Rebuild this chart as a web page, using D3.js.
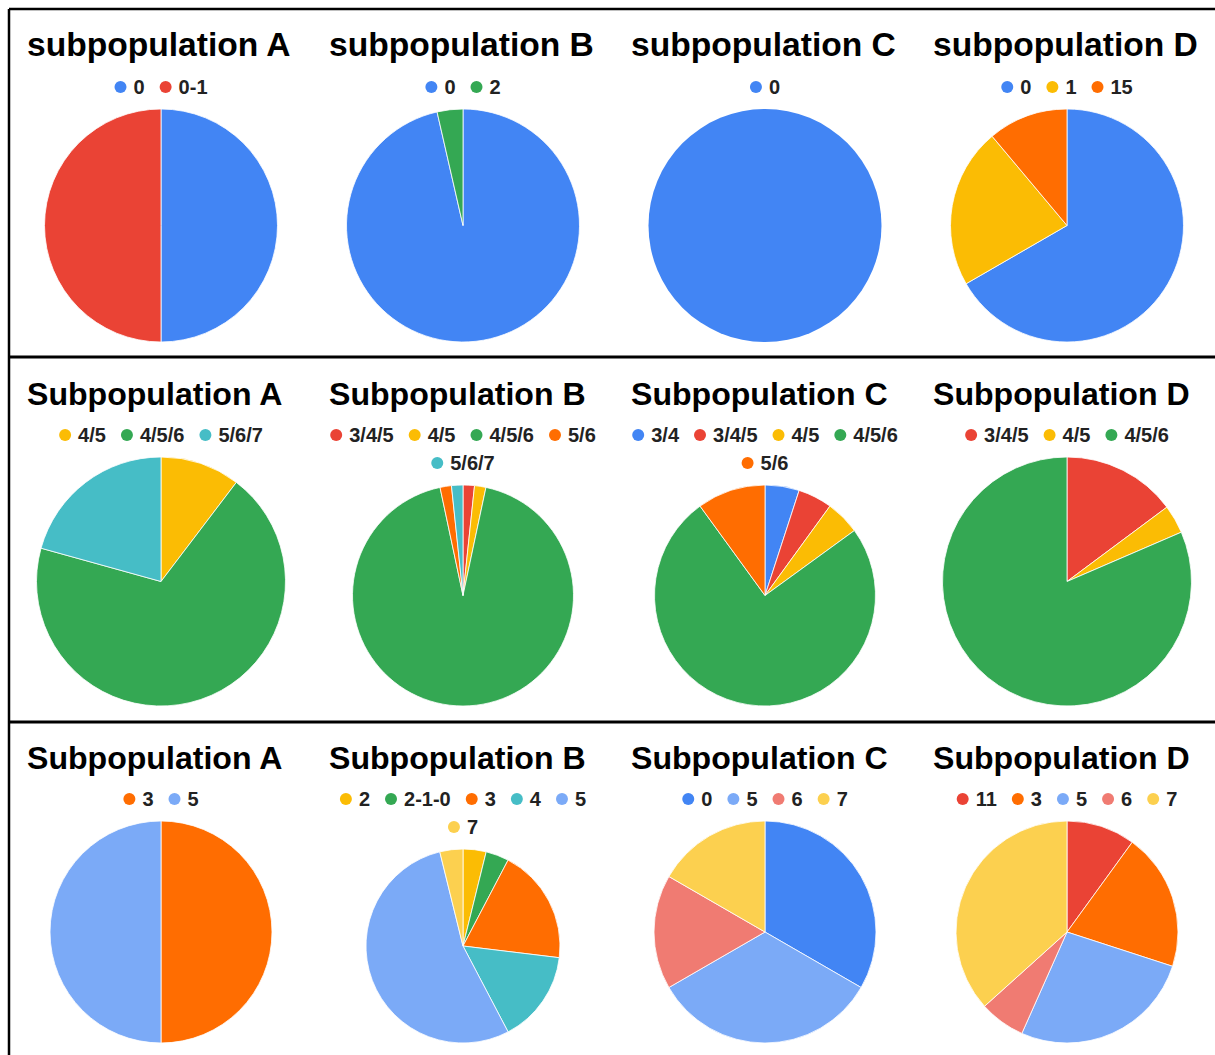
<!DOCTYPE html>
<html>
<head>
<meta charset="utf-8">
<script src="https://cdn.jsdelivr.net/npm/d3@7"></script>
<style>
  html, body { margin: 0; padding: 0; background: #fff; }
  svg { display: block; }
</style>
</head>
<body>
<svg id="chart" width="1215" height="1055"></svg>
<script>
// ---- Titles -------------------------------------------------------------
const row1Titles = ["subpopulation A", "subpopulation B", "subpopulation C", "subpopulation D"];
const row2Titles = ["Subpopulation A", "Subpopulation B", "Subpopulation C", "Subpopulation D"];
const row3Titles = ["Subpopulation A", "Subpopulation B", "Subpopulation C", "Subpopulation D"];

// ---- Row 1 data -----------------------------------------------------------
const r1aLabels = ["0", "0-1"];             const r1aValues = [1, 1];
const r1bLabels = ["0", "2"];               const r1bValues = [27, 1];
const r1cLabels = ["0"];                    const r1cValues = [1];
const r1dLabels = ["0", "1", "15"];         const r1dValues = [6, 2, 1];

// ---- Row 2 data -----------------------------------------------------------
const r2aLabels = ["4/5", "4/5/6", "5/6/7"];                 const r2aValues = [3, 20, 6];
const r2bLabels = ["3/4/5", "4/5", "4/5/6", "5/6", "5/6/7"]; const r2bValues = [1, 1, 56, 1, 1];
const r2cLabels = ["3/4", "3/4/5", "4/5", "4/5/6", "5/6"];   const r2cValues = [1, 1, 1, 15, 2];
const r2dLabels = ["3/4/5", "4/5", "4/5/6"];                 const r2dValues = [4, 1, 22];

// ---- Row 3 data -----------------------------------------------------------
const r3aLabels = ["3", "5"];                          const r3aValues = [1, 1];
const r3bLabels = ["2", "2-1-0", "3", "4", "5", "7"];  const r3bValues = [1, 1, 5, 4, 14, 1];
const r3cLabels = ["0", "5", "6", "7"];                const r3cValues = [2, 2, 1, 1];
const r3dLabels = ["11", "3", "5", "6", "7"];          const r3dValues = [3, 6, 8, 2, 11];

// ---- Slice colours ----------------------------------------------------------
const palette = {
  blue: "#4285F4", red: "#EA4335", yellow: "#FBBC04", green: "#34A853",
  orange: "#FF6D01", teal: "#46BDC6", lightBlue: "#7BAAF7", salmon: "#F07B72",
  lightYellow: "#FCD04F"
};
const r1Colors = [
  ["blue", "red"], ["blue", "green"], ["blue"], ["blue", "yellow", "orange"]
];
const r2Colors = [
  ["yellow", "green", "teal"],
  ["red", "yellow", "green", "orange", "teal"],
  ["blue", "red", "yellow", "green", "orange"],
  ["red", "yellow", "green"]
];
const r3Colors = [
  ["orange", "lightBlue"],
  ["yellow", "green", "orange", "teal", "lightBlue", "lightYellow"],
  ["blue", "lightBlue", "salmon", "lightYellow"],
  ["red", "orange", "lightBlue", "salmon", "lightYellow"]
];

const rows = [
  { titles: row1Titles, titleSize: 33.6, titleY: 56, legendY: 87, pieBottom: 342,
    charts: [[r1aLabels, r1aValues], [r1bLabels, r1bValues], [r1cLabels, r1cValues], [r1dLabels, r1dValues]],
    colors: r1Colors },
  { titles: row2Titles, titleSize: 32.1, titleY: 405, legendY: 435, pieBottom: 706,
    charts: [[r2aLabels, r2aValues], [r2bLabels, r2bValues], [r2cLabels, r2cValues], [r2dLabels, r2dValues]],
    colors: r2Colors },
  { titles: row3Titles, titleSize: 32.1, titleY: 769, legendY: 799, pieBottom: 1043,
    charts: [[r3aLabels, r3aValues], [r3bLabels, r3bValues], [r3cLabels, r3cValues], [r3dLabels, r3dValues]],
    colors: r3Colors }
];

// ---- Layout ---------------------------------------------------------------
const svg = d3.select("#chart");
const FONT = "'Liberation Sans', Arial, Helvetica, sans-serif";
const frameLeft = 9, frameTop = 9, panelW = 302;
const legendFont = 20, legendLine = 28, dotR = 6, dotGap = 7, itemGap = 15, legendMax = 278;

const panelX = d3.scaleBand().domain(d3.range(4)).range([frameLeft, frameLeft + panelW * 4]);

// Frame and row separators
const rules = svg.append("g").attr("stroke", "#000").attr("fill", "none");
rules.append("line").attr("x1", frameLeft).attr("x2", 1215).attr("y1", frameTop).attr("y2", frameTop).attr("stroke-width", 2.5);
rules.append("line").attr("x1", frameLeft).attr("x2", frameLeft).attr("y1", frameTop).attr("y2", 1055).attr("stroke-width", 2.5);
[357, 722].forEach(y => {
  rules.append("line").attr("x1", frameLeft).attr("x2", 1215).attr("y1", y).attr("y2", y).attr("stroke-width", 3);
});

// Measures text width with a hidden text node
const probe = svg.append("text").attr("font-family", FONT).attr("font-weight", "bold")
  .attr("font-size", legendFont).attr("visibility", "hidden");
function textWidth(s) { probe.text(s); return probe.node().getComputedTextLength(); }

const pie = d3.pie().sort(null).value(d => d.value);

rows.forEach(row => {
  row.charts.forEach(([labels, values], i) => {
    const x0 = panelX(i);
    const cx = x0 + panelW / 2 + 1;
    const g = svg.append("g");
    const colorOf = d3.scaleOrdinal().domain(labels).range(row.colors[i].map(k => palette[k]));

    // Title
    g.append("text")
      .attr("x", x0 + 18).attr("y", row.titleY)
      .attr("font-family", FONT).attr("font-weight", "bold")
      .attr("font-size", row.titleSize).attr("fill", "#000")
      .text(row.titles[i]);

    // Legend: wrap items into centred lines
    const items = labels.map(l => ({ label: l, w: dotR * 2 + dotGap + textWidth(l) }));
    const lines = [];
    let cur = [], curW = 0;
    items.forEach(it => {
      const add = cur.length ? itemGap + it.w : it.w;
      if (cur.length && curW + add > legendMax) { lines.push({ items: cur, w: curW }); cur = [it]; curW = it.w; }
      else { cur.push(it); curW += add; }
    });
    lines.push({ items: cur, w: curW });

    lines.forEach((ln, li) => {
      const y = row.legendY + li * legendLine;
      let x = cx - ln.w / 2;
      ln.items.forEach(it => {
        g.append("circle").attr("cx", x + dotR).attr("cy", y).attr("r", dotR)
          .attr("fill", colorOf(it.label));
        g.append("text")
          .attr("x", x + dotR * 2 + dotGap).attr("y", y).attr("dy", "0.36em")
          .attr("font-family", FONT).attr("font-weight", "bold")
          .attr("font-size", legendFont).attr("fill", "#222")
          .text(it.label);
        x += it.w + itemGap;
      });
    });

    // Pie fills the space between the legend and the row bottom
    const pieTop = row.legendY + (lines.length - 1) * legendLine + 22;
    const r = (row.pieBottom - pieTop) / 2;
    const cy = pieTop + r;
    const arc = d3.arc().innerRadius(0).outerRadius(r);
    const data = labels.map((l, k) => ({ label: l, value: values[k] }));

    g.append("g").attr("transform", `translate(${cx},${cy})`)
      .selectAll("path")
      .data(pie(data))
      .join("path")
      .attr("d", arc)
      .attr("fill", d => colorOf(d.data.label))
      .attr("stroke", labels.length > 1 ? "#fff" : "none")
      .attr("stroke-width", 0.8);
  });
});
probe.remove();
</script>
</body>
</html>
